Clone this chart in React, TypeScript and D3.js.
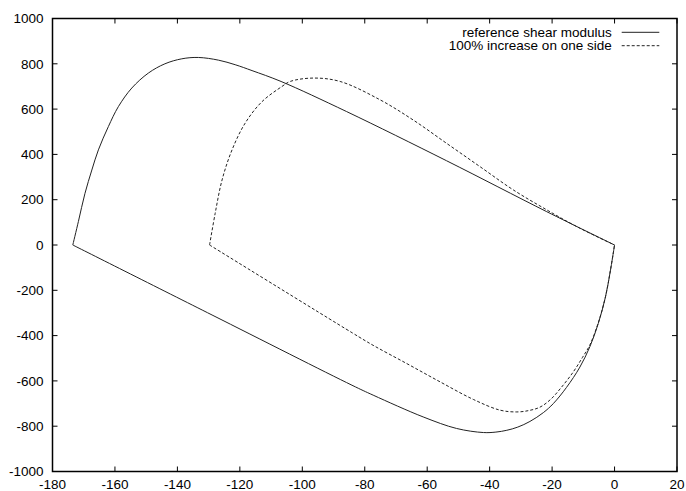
import React from "react";
import * as d3 from "d3";

const W = 686;
const H = 491;

const xTicks = [-180, -160, -140, -120, -100, -80, -60, -40, -20, 0, 20];
const yTicks = [-1000, -800, -600, -400, -200, 0, 200, 400, 600, 800, 1000];

const seriesNames = ["reference shear modulus", "100% increase on one side"];

// reference shear modulus: upper branch
const refUpperX = [-173.5, -171.7, -169.6, -167.4, -165.3, -162.1, -158.9, -154.6, -149.3, -144, -138.6, -133.3, -126.8, -121.5, -116.1, -106.8, -85.8, -53.8, -21.7, 0];
const refUpperY = [0, 104, 228, 331, 420, 523, 611, 693, 759, 800, 822, 828, 816, 796, 770, 722, 589, 372, 147, 0];
// reference shear modulus: lower branch
const refLowerX = [-173.5, -128.9, -84.1, -77.3, -61.3, -50.6, -42, -38, -34.5, -31, -27.1, -22.8, -19.6, -15.4, -11.1, -7.9, -5.2, -2.9, -1.3, 0];
const refLowerY = [0, -309, -619, -663, -759, -810, -828, -826, -818, -804, -779, -740, -700, -629, -539, -449, -346, -229, -111, 0];

// 100% increase on one side: upper branch
const incUpperX = [-129.7, -127.9, -125.7, -122.5, -118.3, -112.9, -106.5, -103.9, -96.5, -87.9, -75.1, -64.5, -53.8, -43.1, -32.4, -21.7, -11.1, 0];
const incUpperY = [0, 140, 287, 420, 538, 633, 700, 722, 737, 722, 641, 552, 449, 346, 243, 155, 74, 0];
// 100% increase on one side: lower branch
const incLowerX = [-129.7, -84.1, -77.3, -66.6, -55.9, -45.2, -36.7, -31.3, -27.5, -23.9, -20.5, -17, -13.2, -10.3, -7.9, -5.2, -2.9, -1.3, 0];
const incLowerY = [0, -387, -443, -523, -604, -682, -729, -737, -731, -716, -682, -628, -560, -497, -441, -343, -228, -110, 0];

const FONT = "'Liberation Sans', Arial, Helvetica, sans-serif";

export default function App() {
  const left = 52.5, right = 677, top = 18.5, bottom = 471.5;
  const x = d3.scaleLinear().domain([-180, 20]).range([left, right]);
  const y = d3.scaleLinear().domain([-1000, 1000]).range([bottom, top]);
  const line = d3
    .line<[number, number]>()
    .x((d) => x(d[0]))
    .y((d) => y(d[1]))
    .curve(d3.curveCatmullRom.alpha(0.5));
  const pts = (xs: number[], ys: number[]) => xs.map((v, i) => [v, ys[i]] as [number, number]);
  const tl = 5;
  const fs = 13.5;
  const lineColor = "#222";

  return (
    <svg width={W} height={H} style={{ position: "absolute", left: 0, top: 0, background: "#fff" }}>
      <rect x={0} y={0} width={W} height={H} fill="#fff" />
      {/* ticks */}
      {xTicks.map((t) => (
        <g key={"x" + t}>
          <line x1={x(t)} x2={x(t)} y1={bottom} y2={bottom - tl} stroke="#000" strokeWidth={1} />
          <line x1={x(t)} x2={x(t)} y1={top} y2={top + tl} stroke="#000" strokeWidth={1} />
          <text x={x(t)} y={489} textAnchor="middle" fontFamily={FONT} fontSize={fs} fill="#000">
            {t}
          </text>
        </g>
      ))}
      {yTicks.map((t) => (
        <g key={"y" + t}>
          <line x1={left} x2={left + tl} y1={y(t)} y2={y(t)} stroke="#000" strokeWidth={1} />
          <line x1={right} x2={right - tl} y1={y(t)} y2={y(t)} stroke="#000" strokeWidth={1} />
          <text x={43.5} y={y(t)} dy="0.35em" textAnchor="end" fontFamily={FONT} fontSize={fs} fill="#000">
            {t}
          </text>
        </g>
      ))}
      {/* series */}
      <path d={line(pts(refUpperX, refUpperY)) || ""} fill="none" stroke={lineColor} strokeWidth={1} />
      <path d={line(pts(refLowerX, refLowerY)) || ""} fill="none" stroke={lineColor} strokeWidth={1} />
      <path d={line(pts(incUpperX, incUpperY)) || ""} fill="none" stroke={lineColor} strokeWidth={1} strokeDasharray="3,2" />
      <path d={line(pts(incLowerX, incLowerY)) || ""} fill="none" stroke={lineColor} strokeWidth={1} strokeDasharray="3,2" />
      {/* frame */}
      <rect x={left} y={top} width={right - left} height={bottom - top} fill="none" stroke="#000" strokeWidth={1.5} />
      {/* legend */}
      {seriesNames.map((name, i) => {
        const cy = 32.3 + i * 13.4;
        return (
          <g key={name}>
            <text x={611.7} y={cy} dy="0.35em" textAnchor="end" fontFamily={FONT} fontSize={fs} fill="#000">
              {name}
            </text>
            <line
              x1={621.7}
              x2={659.3}
              y1={cy}
              y2={cy}
              stroke={lineColor}
              strokeWidth={1}
              strokeDasharray={i === 1 ? "3,2" : undefined}
            />
          </g>
        );
      })}
    </svg>
  );
}
